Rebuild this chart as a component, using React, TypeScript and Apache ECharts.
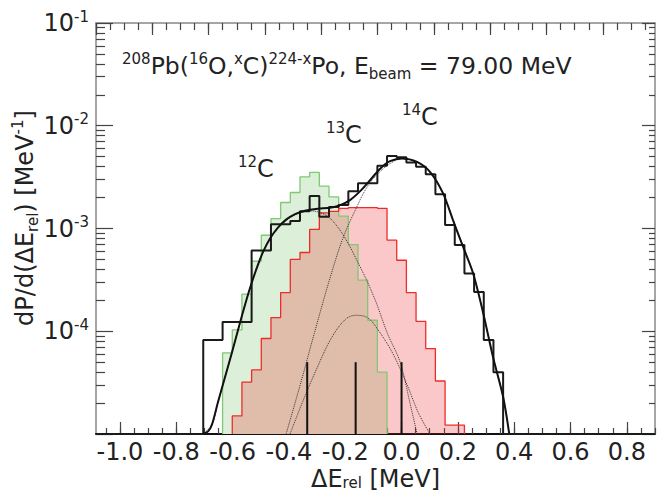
import React, { useEffect, useRef } from "react";
import * as echarts from "echarts";

const FONT = "DejaVu Sans";
const X_MIN = -1.085;
const X_MAX = 0.9;
const Y_MIN = 1e-5;
const Y_MAX = 1e-1;
const FLOOR = 1e-5;
const BIN_WIDTH = 0.03435;

const X_LABELS = [-1.0, -0.8, -0.6, -0.4, -0.2, 0.0, 0.2, 0.4, 0.6, 0.8];
const Y_LABELS = [1e-4, 1e-3, 1e-2, 1e-1];
const Y_DECADES = [1e-5, 1e-4, 1e-3, 1e-2, 1e-1];

// histogram bin contents, bins centred on k * BIN_WIDTH
const TOTAL_FIRST_BIN = -20;
const TOTAL_COUNTS = [
  8.2e-5, 8.2e-5, 1.23e-4, 1.23e-4, 1.23e-4, 6.1e-4, 6.1e-4, 1.1e-3, 1.1e-3, 1.18e-3,
  1.47e-3, 2.07e-3, 1.3e-3, 1.62e-3, 1.69e-3, 2.3e-3, 2.76e-3, 2.76e-3, 4.07e-3, 5.09e-3,
  4.95e-3, 4.4e-3, 3.99e-3, 3.38e-3, 2.15e-3, 1.08e-3, 6.9e-4, 3.65e-4, 2.41e-4, 8.2e-5,
  4.0e-5,
];
const C12_FIRST_BIN = -18;
const C12_COUNTS = [
  6.15e-5, 1.03e-4, 2.3e-4, 4.8e-4, 8.6e-4, 1.25e-3, 1.79e-3, 2.24e-3, 3.18e-3, 3.51e-3,
  2.58e-3, 2.03e-3, 1.32e-3, 6.98e-4, 3.14e-4, 1.28e-4, 4.0e-5,
];
const C13_FIRST_BIN = -17;
const C13_COUNTS = [
  1.5e-5, 3.2e-5, 4.2e-5, 8.5e-5, 1.36e-4, 2.38e-4, 5.0e-4, 5.84e-4, 9.8e-4, 1.42e-3,
  1.47e-3, 1.57e-3, 1.6e-3, 1.6e-3, 1.6e-3, 1.57e-3, 7.7e-4, 4.91e-4, 2.38e-4, 1.25e-4,
  6.78e-5, 3.28e-5, 1.22e-5, 1.22e-5,
];

// fitted curves
const FIT_X = [-0.705, -0.687, -0.673, -0.652, -0.627, -0.602, -0.577, -0.556, -0.535, -0.513, -0.492, -0.467, -0.439, -0.41, -0.378, -0.343, -0.297, -0.254, -0.218, -0.183, -0.147, -0.112, -0.076, -0.041, 0.002, 0.055, 0.101, 0.147, 0.183, 0.219, 0.254, 0.29, 0.325, 0.361, 0.382];
const FIT_Y = [1.0e-5, 1.06e-5, 1.24e-5, 2.04e-5, 3.56e-5, 6.25e-5, 1.12e-4, 1.8e-4, 2.8e-4, 4.2e-4, 5.9e-4, 8.0e-4, 1.02e-3, 1.22e-3, 1.38e-3, 1.49e-3, 1.56e-3, 1.59e-3, 1.69e-3, 1.89e-3, 2.31e-3, 2.95e-3, 3.82e-3, 4.52e-3, 4.81e-3, 4.45e-3, 3.56e-3, 2.21e-3, 1.2e-3, 6.58e-4, 3.67e-4, 1.5e-4, 5.58e-5, 2.28e-5, 1.02e-5];

const COMP12_X = [-0.705, -0.673, -0.652, -0.627, -0.602, -0.577, -0.556, -0.535, -0.513, -0.492, -0.467, -0.439, -0.41, -0.378, -0.35, -0.32, -0.29, -0.26, -0.225, -0.19, -0.157, -0.124, -0.09, -0.05, -0.005, 0.03, 0.055];
const COMP12_Y = [1e-5, 1.24e-5, 2.04e-5, 3.56e-5, 6.25e-5, 1.12e-4, 1.8e-4, 2.8e-4, 4.2e-4, 5.9e-4, 8.0e-4, 1.01e-3, 1.19e-3, 1.36e-3, 1.45e-3, 1.48e-3, 1.43e-3, 1.3e-3, 1.02e-3, 7.2e-4, 4.8e-4, 3.14e-4, 1.9e-4, 9.5e-5, 5.0e-5, 2.0e-5, 1e-5];

const COMP13_X = [-0.396, -0.35, -0.3, -0.25, -0.2, -0.163, -0.12, -0.08, -0.03, 0.02, 0.06, 0.101];
const COMP13_Y = [1e-5, 2.1e-5, 4.4e-5, 8.5e-5, 1.3e-4, 1.43e-4, 1.35e-4, 1.0e-4, 6.0e-5, 3.0e-5, 1.6e-5, 1e-5];

const COMP14_X = [-0.41, -0.36, -0.31, -0.26, -0.21, -0.16, -0.12, -0.08, -0.04, 0.0, 0.055, 0.101, 0.147, 0.183, 0.219, 0.254, 0.29, 0.325, 0.361, 0.382];
const COMP14_Y = [1e-5, 3.0e-5, 9.5e-5, 2.9e-4, 7.8e-4, 1.6e-3, 2.6e-3, 3.5e-3, 4.3e-3, 4.8e-3, 4.4e-3, 3.53e-3, 2.21e-3, 1.2e-3, 6.6e-4, 3.67e-4, 1.5e-4, 5.6e-5, 2.3e-5, 1.0e-5];

const STICK_X = [-0.335, -0.163, 0.0];
const STICK_H = [5.0e-5, 5.0e-5, 5.0e-5];

function histPoints(first: number, vals: number[], full = false) {
  const pts: number[][] = [];
  if (full) pts.push([X_MIN, FLOOR]);
  pts.push([(first - 0.5) * BIN_WIDTH, FLOOR]);
  vals.forEach((v, i) => pts.push([(first + i - 0.5) * BIN_WIDTH, v]));
  pts.push([(first + vals.length - 0.5) * BIN_WIDTH, FLOOR]);
  if (full) pts.push([X_MAX, FLOOR]);
  return pts;
}
const zip = (xs: number[], ys: number[]) => xs.map((x, i) => [x, ys[i]]);

export default function App() {
  const ref = useRef<HTMLDivElement>(null);
  useEffect(() => {
    if (!ref.current) return;
    const chart = echarts.init(ref.current, undefined, { renderer: "svg" });

    const xMinor: number[] = [];
    for (let k = -21; k <= 18; k++) xMinor.push(Math.round(k * 5) / 100);
    const topMajor: number[] = [];
    for (let k = 0; k * 0.2 + X_MIN <= X_MAX + 1e-9; k++) topMajor.push(X_MIN + 0.2 * k);
    const topMinor: number[] = [];
    for (let k = 0; k * 0.05 + X_MIN <= X_MAX + 1e-9; k++) topMinor.push(X_MIN + 0.05 * k);
    const yMinor: number[] = [];
    Y_DECADES.slice(0, 4).forEach((d) => {
      for (let m = 2; m <= 9; m++) yMinor.push(m * d);
    });

    const tickLine = { color: "#444", width: 1.2 };
    const frame = { color: "#888", width: 1.5 };
    const baseX = {
      type: "value" as const,
      min: X_MIN,
      max: X_MAX,
      splitLine: { show: false },
      axisLabel: { show: false },
    };
    const baseY = {
      type: "log" as const,
      logBase: 10,
      min: Y_MIN,
      max: Y_MAX,
      splitLine: { show: false },
      axisLabel: { show: false },
    };

    const dotted = (data: number[][]) => ({
      type: "line",
      data,
      smooth: 0.35,
      symbol: "none",
      silent: true,
      lineStyle: { color: "#333", width: 1, type: "dotted" },
      z: 4,
    });

    chart.setOption({
      animation: false,
      grid: { left: 96, top: 23, width: 559, height: 411, containLabel: false },
      xAxis: [
        {
          ...baseX,
          position: "bottom",
          axisLine: { show: true, onZero: false, lineStyle: { color: "#111", width: 2 } },
          axisTick: { show: true, inside: true, length: 12, customValues: X_LABELS, lineStyle: tickLine },
          axisLabel: {
            show: true,
            customValues: X_LABELS,
            formatter: (v: number) => v.toFixed(1),
            fontFamily: FONT,
            fontSize: 24,
            lineHeight: 22,
            color: "#222",
            margin: 7,
          },
        },
        {
          ...baseX,
          position: "bottom",
          axisLine: { show: false, onZero: false },
          axisTick: { show: true, inside: true, length: 6, customValues: xMinor, lineStyle: tickLine },
        },
        {
          ...baseX,
          position: "top",
          axisLine: { show: true, onZero: false, lineStyle: frame },
          axisTick: { show: true, inside: true, length: 12, customValues: topMajor, lineStyle: tickLine },
        },
        {
          ...baseX,
          position: "top",
          axisLine: { show: false, onZero: false },
          axisTick: { show: true, inside: true, length: 7, customValues: topMinor, lineStyle: tickLine },
        },
      ],
      yAxis: [
        {
          ...baseY,
          position: "left",
          axisLine: { show: true, onZero: false, lineStyle: frame },
          axisTick: { show: true, inside: true, length: 17, customValues: Y_DECADES, lineStyle: tickLine },
          axisLabel: {
            show: true,
            customValues: Y_LABELS,
            margin: 7,
            formatter: (v: number) => `{a|10}{s|${Math.round(Math.log10(v))}}`,
            rich: {
              a: { fontFamily: FONT, fontSize: 24, lineHeight: 28, color: "#222" },
              s: { fontFamily: FONT, fontSize: 15, lineHeight: 24, verticalAlign: "top", color: "#222" },
            },
          },
        },
        {
          ...baseY,
          position: "left",
          axisLine: { show: false, onZero: false },
          axisTick: { show: true, inside: true, length: 9, customValues: yMinor, lineStyle: tickLine },
        },
        {
          ...baseY,
          position: "right",
          axisLine: { show: true, onZero: false, lineStyle: frame },
          axisTick: { show: true, inside: true, length: 13, customValues: Y_DECADES, lineStyle: tickLine },
        },
        {
          ...baseY,
          position: "right",
          axisLine: { show: false, onZero: false },
          axisTick: { show: true, inside: true, length: 6, customValues: yMinor, lineStyle: tickLine },
        },
      ],
      series: [
        {
          type: "line",
          data: histPoints(C12_FIRST_BIN, C12_COUNTS),
          step: "end",
          symbol: "none",
          silent: true,
          lineStyle: { width: 0 },
          areaStyle: { color: "#dcefd8", opacity: 1, origin: "start" },
          z: 1,
        },
        {
          type: "line",
          data: histPoints(C13_FIRST_BIN, C13_COUNTS),
          step: "end",
          symbol: "none",
          silent: true,
          lineStyle: { width: 0 },
          areaStyle: { color: "rgba(235,35,35,0.25)", opacity: 1, origin: "start" },
          z: 2,
        },
        {
          type: "line",
          data: histPoints(C12_FIRST_BIN, C12_COUNTS),
          step: "end",
          symbol: "none",
          silent: true,
          lineStyle: { color: "#80c873", width: 1.3 },
          z: 3,
        },
        {
          type: "line",
          data: histPoints(C13_FIRST_BIN, C13_COUNTS),
          step: "end",
          symbol: "none",
          silent: true,
          lineStyle: { color: "#ee2b2b", width: 1.3 },
          z: 3,
        },
        dotted(zip(COMP12_X, COMP12_Y)),
        dotted(zip(COMP13_X, COMP13_Y)),
        dotted(zip(COMP14_X, COMP14_Y)),
        ...STICK_X.map((x, i) => ({
          type: "line",
          data: [
            [x, FLOOR],
            [x, STICK_H[i]],
          ],
          symbol: "none",
          silent: true,
          lineStyle: { color: "#111", width: 2 },
          z: 5,
        })),
        {
          type: "line",
          data: histPoints(TOTAL_FIRST_BIN, TOTAL_COUNTS, true),
          step: "end",
          symbol: "none",
          silent: true,
          lineStyle: { color: "#1a1a1a", width: 2 },
          z: 6,
        },
        {
          type: "line",
          data: zip(FIT_X, FIT_Y),
          smooth: 0.3,
          symbol: "none",
          silent: true,
          lineStyle: { color: "#111", width: 2 },
          z: 7,
        },
      ],
      graphic: [
        {
          type: "text",
          x: 122,
          y: 66,
          style: {
            text: "{s|208}{n|Pb(}{s|16}{n|O,}{s|x}{n|C)}{s|224-x}{n|Po, E}{b|beam}{n| = 79.00 MeV}",
            verticalAlign: "middle",
            align: "left",
            rich: {
              n: { fontFamily: FONT, fontSize: 23.5, lineHeight: 30, fill: "#222" },
              s: { fontFamily: FONT, fontSize: 15, lineHeight: 15, verticalAlign: "top", fill: "#222" },
              b: { fontFamily: FONT, fontSize: 15, lineHeight: 15, verticalAlign: "bottom", fill: "#222" },
            },
          },
        },
        ...[
          { t: "12", x: 238, y: 169 },
          { t: "13", x: 326, y: 135 },
          { t: "14", x: 402, y: 117 },
        ].map((l) => ({
          type: "text",
          x: l.x,
          y: l.y,
          style: {
            text: `{s|${l.t}}{n|C}`,
            verticalAlign: "middle",
            align: "left",
            rich: {
              n: { fontFamily: FONT, fontSize: 24, lineHeight: 30, fill: "#222" },
              s: { fontFamily: FONT, fontSize: 15, lineHeight: 15, verticalAlign: "top", fill: "#222" },
            },
          },
        })),
        {
          type: "text",
          x: 311,
          y: 478.5,
          style: {
            text: "{n|ΔE}{b|rel}{n| [MeV]}",
            verticalAlign: "middle",
            align: "left",
            rich: {
              n: { fontFamily: FONT, fontSize: 24, lineHeight: 24, fill: "#222" },
              b: { fontFamily: FONT, fontSize: 15, lineHeight: 13, verticalAlign: "bottom", fill: "#222" },
            },
          },
        },
        {
          type: "text",
          x: 25,
          y: 218,
          rotation: Math.PI / 2,
          style: {
            text: "{n|dP/d(ΔE}{b|rel}{n|) [MeV}{s|-1}{n|]}",
            verticalAlign: "middle",
            align: "center",
            rich: {
              n: { fontFamily: FONT, fontSize: 24, lineHeight: 30, fill: "#222" },
              s: { fontFamily: FONT, fontSize: 15, lineHeight: 15, verticalAlign: "top", fill: "#222" },
              b: { fontFamily: FONT, fontSize: 15, lineHeight: 15, verticalAlign: "bottom", fill: "#222" },
            },
          },
        },
      ],
    });
    return () => chart.dispose();
  }, []);
  return (
    <div
      ref={ref}
      style={{ position: "absolute", left: 0, top: 0, width: 657, height: 491, background: "#fff" }}
    />
  );
}
